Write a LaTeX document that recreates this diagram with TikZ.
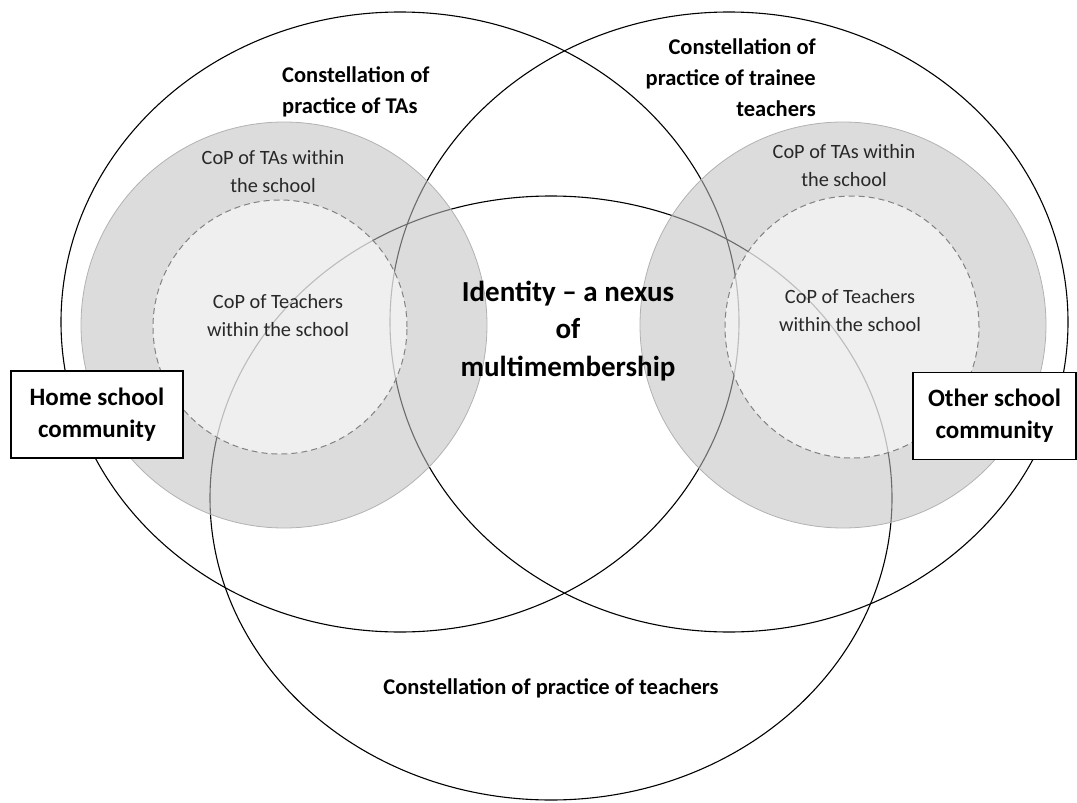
\documentclass[tikz,border=0pt]{standalone}
\usepackage{fontspec}
\setmainfont{Carlito}
\definecolor{diskfill}{RGB}{192,192,192}
\definecolor{diskedge}{RGB}{178,178,178}
\definecolor{dashedge}{RGB}{130,130,130}
\definecolor{smalltext}{RGB}{40,40,40}
\begin{document}
\begin{tikzpicture}[x=1pt,y=-1pt,
  bigring/.style={draw=black, line width=1.1pt},
  copdisk/.style={fill=diskfill, fill opacity=0.56, draw=diskedge, line width=0.8pt},
  innerdisk/.style={fill=white, fill opacity=0.55, draw=dashedge, line width=1pt, dash pattern=on 6pt off 4pt},
  conlabel/.style={font=\bfseries\fontsize{22.5}{31}\selectfont, inner sep=0pt},
  coplabel/.style={font=\fontsize{20.3}{28}\selectfont, text=smalltext, align=center, inner sep=0pt},
  commbox/.style={draw=black, fill=white, line width=1.1pt, font=\bfseries\fontsize{25}{32}\selectfont, align=center, minimum height=87pt, inner sep=0pt}
]
\useasboundingbox (0,0) rectangle (1077,803);

% constellations of practice
\draw[bigring] (400,322) ellipse [x radius=339pt, y radius=310pt];
\draw[bigring] (729,322) ellipse [x radius=339pt, y radius=310pt];
\draw[bigring] (551,498) ellipse [x radius=341pt, y radius=302pt];

% communities of practice within the schools
\draw[copdisk] (284,325) circle [radius=203pt];
\draw[copdisk] (843,325) circle [radius=203pt];
\draw[innerdisk] (280,327) circle [radius=127pt];
\draw[innerdisk] (852,327) ellipse [x radius=127pt, y radius=131pt];

% labels
\node[conlabel, anchor=west, align=left] (tas) at (282,92) {Constellation of\\practice of TAs};
\node[conlabel, anchor=east, align=right] (trainee) at (816,78) {Constellation of\\practice of trainee\\teachers};
\node[conlabel] (teachers) at (551,688) {Constellation of practice of teachers};

\node[coplabel] (copTAleft) at (273,172) {CoP of TAs within\\the school};
\node[coplabel] (copTAright) at (844,166) {CoP of TAs within\\the school};
\node[coplabel] (copTleft) at (278,316) {CoP of Teachers\\within the school};
\node[coplabel] (copTright) at (850,311) {CoP of Teachers\\within the school};

\node[font=\bfseries\fontsize{29}{37.5}\selectfont, align=center, inner sep=0pt] (identity) at (568,331) {Identity – a nexus\\of\\multimembership};

% school communities
\node[commbox, minimum width=172pt] (home) at (97,414.5) {Home school\\community};
\node[commbox, minimum width=163pt] (other) at (994.5,416) {Other school\\community};
\end{tikzpicture}
\end{document}
